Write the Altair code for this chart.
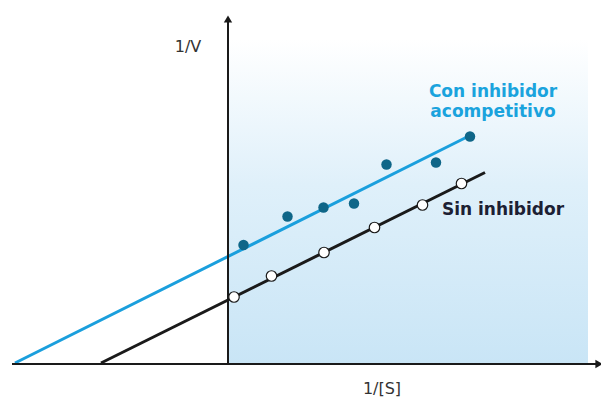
import altair as alt
import pandas as pd

# Lineweaver-Burk data (arbitrary units; y-axis at x=0, x-axis at y=0)
x_sin = [0.12, 0.87, 1.92, 2.93, 3.89, 4.67]
y_sin = [1.34, 1.76, 2.23, 2.73, 3.18, 3.61]
x_con = [0.31, 1.19, 1.91, 2.52, 3.17, 4.16, 4.84]
y_con = [2.38, 2.95, 3.13, 3.21, 3.99, 4.03, 4.55]

# fitted lines (endpoints)
line_sin_x = [-2.54, 5.14]
line_sin_y = [0.02, 3.83]
line_con_x = [-4.26, 4.78]
line_con_y = [0.02, 4.54]

# axes extents
xaxis_x = [-4.32, 7.42]
yaxis_y = [0.0, 6.9]
shade_x = [0.0, 7.2]
shade_y = [0.0, 6.5]

X_DOM = [-4.4, 7.46]
Y_DOM = [-0.72, 7.12]

xs = alt.Scale(domain=X_DOM, nice=False, zero=False)
ys = alt.Scale(domain=Y_DOM, nice=False, zero=False)

def X(f="x"):
    return alt.X(f"{f}:Q", scale=xs, axis=None)

def Y(f="y"):
    return alt.Y(f"{f}:Q", scale=ys, axis=None)

shade = alt.Chart(pd.DataFrame({"x": [shade_x[0]], "x2": [shade_x[1]],
                                "y": [shade_y[0]], "y2": [shade_y[1]]})).mark_rect(
    color=alt.Gradient(
        gradient="linear",
        stops=[alt.GradientStop(color="#c9e5f6", offset=0),
               alt.GradientStop(color="#dff0fa", offset=0.55),
               alt.GradientStop(color="#ffffff", offset=1)],
        x1=0, x2=0, y1=1, y2=0,
    )
).encode(x=X(), x2="x2:Q", y=Y(), y2="y2:Q")

xaxis = alt.Chart(pd.DataFrame({"x": [xaxis_x[0]], "x2": [xaxis_x[1]], "y": [0.0]})).mark_rule(
    color="#1a1a1a", strokeWidth=2).encode(x=X(), x2="x2:Q", y=Y())
yaxis = alt.Chart(pd.DataFrame({"x": [0.0], "y": [yaxis_y[0]], "y2": [yaxis_y[1]]})).mark_rule(
    color="#1a1a1a", strokeWidth=2).encode(x=X(), y=Y(), y2="y2:Q")

arrow_up = alt.Chart(pd.DataFrame({"x": [0.0], "y": [yaxis_y[1]]})).mark_point(
    shape="triangle-up", filled=True, size=70, color="#1a1a1a", opacity=1).encode(x=X(), y=Y())
arrow_right = alt.Chart(pd.DataFrame({"x": [xaxis_x[1]], "y": [0.0]})).mark_point(
    shape="triangle-right", filled=True, size=70, color="#1a1a1a", opacity=1).encode(x=X(), y=Y())

l_sin = alt.Chart(pd.DataFrame({"x": line_sin_x, "y": line_sin_y})).mark_line(
    color="#1a1a1a", strokeWidth=3).encode(x=X(), y=Y())
l_con = alt.Chart(pd.DataFrame({"x": line_con_x, "y": line_con_y})).mark_line(
    color="#1a9fdd", strokeWidth=3).encode(x=X(), y=Y())

p_sin = alt.Chart(pd.DataFrame({"x": x_sin, "y": y_sin})).mark_point(
    filled=True, fill="white", stroke="#1a1a1a", strokeWidth=1.2, size=110, opacity=1
).encode(x=X(), y=Y())
p_con = alt.Chart(pd.DataFrame({"x": x_con, "y": y_con})).mark_point(
    filled=True, color="#0f6688", size=110, opacity=1
).encode(x=X(), y=Y())

txt = pd.DataFrame({
    "x": [-0.8, 3.08, 5.3, 5.3, 5.5],
    "y": [6.34, -0.5, 5.44, 5.04, 3.08],
    "t": ["1/V", "1/[S]", "Con inhibidor", "acompetitivo", "Sin inhibidor"],
    "c": ["#333333", "#333333", "#1aa3dd", "#1aa3dd", "#1c2033"],
    "w": ["normal", "normal", "bold", "bold", "bold"],
})
t_norm = alt.Chart(txt[txt.w == "normal"]).mark_text(
    fontSize=16, font="DejaVu Sans", color="#333333").encode(
    x=X(), y=Y(), text="t:N")
t_bold = alt.Chart(txt[txt.w == "bold"]).mark_text(
    fontSize=17, font="DejaVu Sans", fontWeight="bold").encode(
    x=X(), y=Y(), text="t:N", color=alt.Color("c:N", scale=None))

chart = alt.layer(shade, l_con, l_sin, xaxis, yaxis, arrow_up, arrow_right,
                  p_sin, p_con, t_norm, t_bold).properties(
    width=593, height=392, padding=0,
    autosize=alt.AutoSizeParams(type="none"),
).configure_view(stroke=None)

chart.save("out.html", embed_options={"renderer": "svg", "actions": False})
